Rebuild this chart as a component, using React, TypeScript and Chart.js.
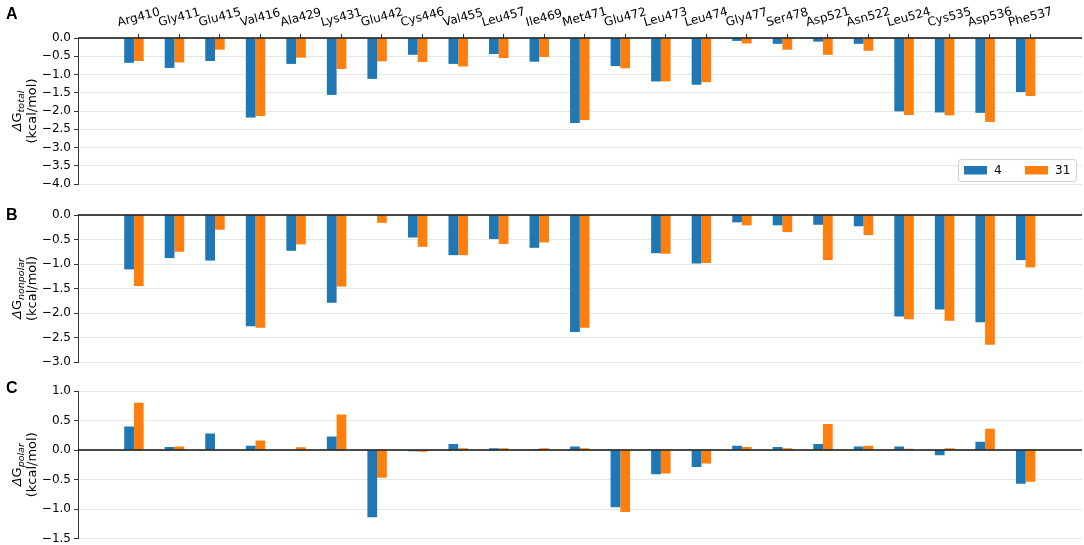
import { useEffect, useRef } from 'react';
import { Chart, registerables } from 'chart.js';

Chart.register(...registerables);
Chart.defaults.font.family = "'DejaVu Sans', sans-serif";
Chart.defaults.font.size = 12;
Chart.defaults.color = '#000';

const residues = [
  'Arg410', 'Gly411', 'Glu415', 'Val416', 'Ala429', 'Lys431', 'Glu442', 'Cys446',
  'Val455', 'Leu457', 'Ile469', 'Met471', 'Glu472', 'Leu473', 'Leu474', 'Gly477',
  'Ser478', 'Asp521', 'Asn522', 'Leu524', 'Cys535', 'Asp536', 'Phe537',
];

const seriesNames = ['4', '31'];
const seriesColors = ['#1f77b4', '#ff7f0e'];

const total4 = [-0.68, -0.82, -0.63, -2.18, -0.71, -1.56, -1.12, -0.46, -0.71, -0.44, -0.65, -2.33, -0.77, -1.19, -1.28, -0.08, -0.16, -0.1, -0.16, -2.01, -2.04, -2.05, -1.48];
const total31 = [-0.63, -0.67, -0.32, -2.14, -0.54, -0.85, -0.64, -0.66, -0.78, -0.55, -0.52, -2.25, -0.83, -1.19, -1.21, -0.15, -0.32, -0.46, -0.35, -2.11, -2.12, -2.3, -1.59];

const nonpolar4 = [-1.11, -0.88, -0.93, -2.27, -0.73, -1.79, 0, -0.46, -0.82, -0.49, -0.67, -2.39, 0, -0.78, -0.99, -0.15, -0.21, -0.2, -0.23, -2.07, -1.93, -2.19, -0.92];
const nonpolar31 = [-1.45, -0.75, -0.3, -2.3, -0.6, -1.46, -0.16, -0.65, -0.82, -0.59, -0.56, -2.3, 0, -0.79, -0.98, -0.21, -0.35, -0.92, -0.41, -2.13, -2.16, -2.65, -1.07];

const polar4 = [0.4, 0.05, 0.28, 0.07, 0, 0.23, -1.14, -0.02, 0.1, 0.03, 0.015, 0.06, -0.97, -0.41, -0.29, 0.07, 0.05, 0.1, 0.06, 0.06, -0.09, 0.14, -0.57];
const polar31 = [0.8, 0.06, 0, 0.16, 0.045, 0.6, -0.47, -0.03, 0.03, 0.03, 0.03, 0.03, -1.05, -0.4, -0.23, 0.05, 0.03, 0.44, 0.07, 0.02, 0.03, 0.36, -0.54];

const totalRange = [-4, 0];
const nonpolarRange = [-3, 0];
const polarRange = [-1.5, 1];

// x is a plain index axis; labels sit over the second bar of each pair
const xMin = -1.38;
const xMax = 23.39;
const tickShift = 0.12;

interface PanelProps {
  top: number;
  height: number;
  padTop: number;
  padBottom: number;
  values: number[][];
  range: number[];
  letter: string;
  letterY: number;
  sub: string;
  labels?: boolean;
  legend?: boolean;
}

const fmt = (v: number) => v.toFixed(1).replace('-', '\u2212');

function Panel(props: PanelProps) {
  const canvasRef = useRef<HTMLCanvasElement | null>(null);

  useEffect(() => {
    const decor = {
      id: 'decor',
      afterDatasetsDraw(chart: any) {
        const { ctx, chartArea } = chart;
        const y0 = chart.scales.y.getPixelForValue(0);
        ctx.save();
        ctx.strokeStyle = '#111';
        ctx.lineWidth = 1.6;
        ctx.beginPath();
        ctx.moveTo(chartArea.left, y0);
        ctx.lineTo(chartArea.right, y0);
        ctx.stroke();
        ctx.restore();
      },
      afterDraw(chart: any) {
        const { ctx, chartArea } = chart;
        ctx.save();

        // panel letter
        ctx.fillStyle = '#000';
        ctx.font = "bold 16px 'Liberation Sans', sans-serif";
        ctx.textAlign = 'left';
        ctx.textBaseline = 'alphabetic';
        ctx.fillText(props.letter, 6, props.letterY);

        // y title: ΔG_sub / (kcal/mol)
        const cy = (chartArea.top + chartArea.bottom) / 2;
        ctx.translate(0, cy);
        ctx.rotate(-Math.PI / 2);
        const fDelta = "italic 13px 'DejaVu Sans', sans-serif";
        const fG = "13px 'DejaVu Sans', sans-serif";
        const fSub = "italic 9.5px 'DejaVu Sans', sans-serif";
        ctx.font = fDelta;
        const wD = ctx.measureText('\u0394').width;
        ctx.font = fG;
        const wG = ctx.measureText('G').width;
        ctx.font = fSub;
        const wS = ctx.measureText(props.sub).width;
        let u = -(wD + wG + wS) / 2;
        const base1 = 21;
        ctx.textAlign = 'left';
        ctx.font = fDelta;
        ctx.fillText('\u0394', u, base1);
        u += wD;
        ctx.font = fG;
        ctx.fillText('G', u, base1);
        u += wG;
        ctx.font = fSub;
        ctx.fillText(props.sub, u, base1 + 3);
        ctx.font = fG;
        ctx.textAlign = 'center';
        ctx.fillText('(kcal/mol)', 0, 36);
        ctx.restore();

        // residue labels, rotated and centred on each tick
        if (props.labels) {
          const xs = chart.scales.x;
          const th = (15 * Math.PI) / 180;
          ctx.save();
          ctx.font = "12px 'DejaVu Sans', sans-serif";
          ctx.fillStyle = '#000';
          ctx.textAlign = 'center';
          ctx.textBaseline = 'middle';
          residues.forEach((name, i) => {
            const px = xs.getPixelForValue(i + tickShift);
            const w = ctx.measureText(name).width;
            const h = 14;
            const bh = w * Math.sin(th) + h * Math.cos(th);
            const py = chartArea.top - 8 - bh / 2;
            ctx.save();
            ctx.translate(px, py);
            ctx.rotate(-th);
            ctx.fillText(name, 0, 0);
            ctx.restore();
          });
          ctx.restore();
        }

        // legend box, lower right
        if (props.legend) {
          const bx = 958;
          const by = 159;
          const bw = 118;
          const bhh = 22;
          ctx.save();
          ctx.fillStyle = 'rgba(255,255,255,0.85)';
          ctx.strokeStyle = '#d0d0d0';
          ctx.lineWidth = 1;
          ctx.beginPath();
          ctx.roundRect(bx + 0.5, by + 0.5, bw, bhh, 3);
          ctx.fill();
          ctx.stroke();
          ctx.font = "12px 'DejaVu Sans', sans-serif";
          ctx.textBaseline = 'middle';
          ctx.textAlign = 'left';
          const midY = by + bhh / 2;
          seriesNames.forEach((name, k) => {
            const hx = bx + 6 + k * 61;
            ctx.fillStyle = seriesColors[k];
            ctx.fillRect(hx, midY - 4, 23, 8.5);
            ctx.fillStyle = '#000';
            ctx.fillText(name, hx + 30, midY + 1);
          });
          ctx.restore();
        }
      },
    };

    const chart = new Chart(canvasRef.current as HTMLCanvasElement, {
      type: 'bar',
      data: {
        datasets: props.values.map((vals, k) => ({
          label: seriesNames[k],
          data: vals.map((v, i) => ({ x: i, y: v })),
          backgroundColor: seriesColors[k],
          borderWidth: 0,
          categoryPercentage: 0.48,
          barPercentage: 1,
        })),
      },
      options: {
        animation: false,
        responsive: true,
        maintainAspectRatio: false,
        layout: {
          padding: { left: 0, right: 2, top: 0, bottom: props.padBottom },
        },
        plugins: {
          legend: { display: false },
          tooltip: { enabled: false },
        },
        scales: {
          x: {
            type: 'linear',
            position: 'top',
            min: xMin,
            max: xMax,
            offset: false,
            display: true,
            border: { display: false },
            grid: {
              offset: false,
              drawOnChartArea: false,
              drawTicks: !!props.labels,
              tickLength: 4,
              tickColor: '#333',
            },
            ticks: { display: false, autoSkip: false },
            afterBuildTicks: (s: any) => {
              s.ticks = residues.map((_, i) => ({ value: i + tickShift }));
            },
            afterFit: (s: any) => {
              s.height = props.padTop;
            },
          },
          y: {
            min: props.range[0],
            max: props.range[1],
            border: { color: '#333', width: 1 },
            grid: { color: '#e6e6e6', tickColor: '#333', tickLength: 4 },
            ticks: {
              stepSize: 0.5,
              padding: 3,
              color: '#000',
              font: { size: 12 },
              callback: (v: any) => fmt(Number(v)),
            },
            afterFit: (s: any) => {
              s.width = 78;
            },
          },
        },
      } as any,
      plugins: [decor],
    });

    return () => chart.destroy();
  }, []);

  return (
    <div
      style={{
        position: 'absolute',
        left: 0,
        top: props.top,
        width: 1084,
        height: props.height,
      }}
    >
      <canvas ref={canvasRef}></canvas>
    </div>
  );
}

export default function App() {
  return (
    <div
      style={{
        position: 'fixed',
        left: 0,
        top: 0,
        width: 1084,
        height: 545,
        background: '#fff',
        overflow: 'hidden',
      }}
    >
      <Panel
        top={0}
        height={200}
        padTop={38}
        padBottom={16}
        values={[total4, total31]}
        range={totalRange}
        letter="A"
        letterY={19}
        sub="total"
        labels
        legend
      />
      <Panel
        top={200}
        height={180}
        padTop={15}
        padBottom={18}
        values={[nonpolar4, nonpolar31]}
        range={nonpolarRange}
        letter="B"
        letterY={20}
        sub="nonpolar"
      />
      <Panel
        top={370}
        height={185}
        padTop={21}
        padBottom={16.5}
        values={[polar4, polar31]}
        range={polarRange}
        letter="C"
        letterY={23}
        sub="polar"
      />
    </div>
  );
}
